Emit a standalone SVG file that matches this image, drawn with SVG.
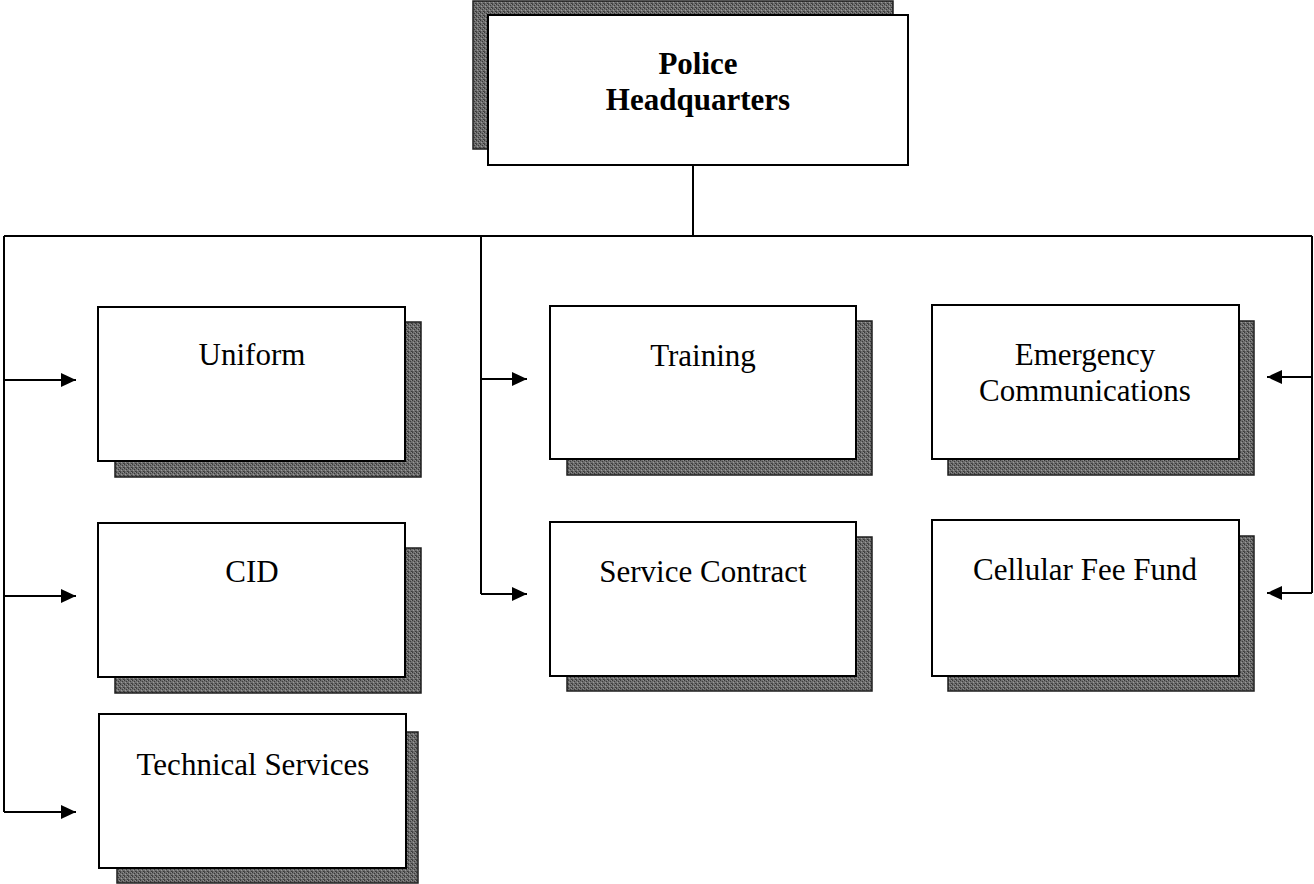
<svg xmlns="http://www.w3.org/2000/svg" width="1314" height="884" viewBox="0 0 1314 884">
  <style>
    .box { fill: #ffffff; stroke: #000000; stroke-width: 2; }
    .shadow { fill: url(#grain); stroke: #1e1e1e; stroke-width: 1.5; }
    .label { font-family: "Liberation Serif", "Times New Roman", serif; font-size: 31px; fill: #000000; text-anchor: middle; }
    .title { font-weight: bold; }
    .wire { fill: none; stroke: #000000; stroke-width: 2; }
  </style>
  <defs>
    <!-- speckled grey fill used for the drop shadows -->
    <pattern id="grain" width="4" height="4" patternUnits="userSpaceOnUse">
      <rect width="4" height="4" fill="#6e6e6e"/>
      <rect x="0" y="0" width="1" height="1" fill="#3a3a3a"/>
      <rect x="2" y="1" width="1" height="1" fill="#3a3a3a"/>
      <rect x="1" y="2" width="1" height="1" fill="#9a9a9a"/>
      <rect x="3" y="3" width="1" height="1" fill="#3a3a3a"/>
      <rect x="3" y="0" width="1" height="1" fill="#8c8c8c"/>
      <rect x="0" y="3" width="1" height="1" fill="#4a4a4a"/>
    </pattern>
    <marker id="arrow" viewBox="0 0 15 14" refX="15" refY="7" markerWidth="15" markerHeight="14" markerUnits="userSpaceOnUse" orient="auto">
      <path d="M0,0 L15,7 L0,14 Z" fill="#000000"/>
    </marker>
  </defs>

  <rect width="1314" height="884" fill="#ffffff"/>

  <!-- headquarters -->
  <g id="hq">
    <rect class="shadow" x="473" y="1" width="420" height="148"/>
    <rect class="box" x="488" y="15" width="420" height="150"/>
    <text class="label title" x="698" y="74">Police</text>
    <text class="label title" x="698" y="110">Headquarters</text>
  </g>

  <!-- connectors -->
  <g id="connectors">
    <path class="wire" d="M693,165 V236"/>
    <path class="wire" d="M4,236 H1312"/>
    <path class="wire" d="M4,236 V812"/>
    <path class="wire" d="M4,380 H76" marker-end="url(#arrow)"/>
    <path class="wire" d="M4,596 H76" marker-end="url(#arrow)"/>
    <path class="wire" d="M4,812 H76" marker-end="url(#arrow)"/>
    <path class="wire" d="M481,236 V594"/>
    <path class="wire" d="M481,379 H527" marker-end="url(#arrow)"/>
    <path class="wire" d="M481,594 H527" marker-end="url(#arrow)"/>
    <path class="wire" d="M1312,236 V593"/>
    <path class="wire" d="M1312,377 H1267" marker-end="url(#arrow)"/>
    <path class="wire" d="M1312,593 H1267" marker-end="url(#arrow)"/>
  </g>

  <g id="uniform">
    <rect class="shadow" x="115" y="322" width="306" height="155"/>
    <rect class="box" x="98" y="307" width="307" height="154"/>
    <text class="label" x="252" y="365">Uniform</text>
  </g>

  <g id="cid">
    <rect class="shadow" x="115" y="548" width="306" height="145"/>
    <rect class="box" x="98" y="523" width="307" height="154"/>
    <text class="label" x="252" y="582">CID</text>
  </g>

  <g id="technical-services">
    <rect class="shadow" x="117" y="732" width="301" height="151"/>
    <rect class="box" x="99" y="714" width="307" height="154"/>
    <text class="label" x="253" y="775">Technical Services</text>
  </g>

  <g id="training">
    <rect class="shadow" x="567" y="321" width="305" height="154"/>
    <rect class="box" x="550" y="306" width="306" height="153"/>
    <text class="label" x="703" y="366">Training</text>
  </g>

  <g id="service-contract">
    <rect class="shadow" x="567" y="537" width="305" height="154"/>
    <rect class="box" x="550" y="522" width="306" height="154"/>
    <text class="label" x="703" y="582">Service Contract</text>
  </g>

  <g id="emergency-communications">
    <rect class="shadow" x="948" y="321" width="306" height="154"/>
    <rect class="box" x="932" y="305" width="307" height="154"/>
    <text class="label" x="1085" y="365">Emergency</text>
    <text class="label" x="1085" y="401">Communications</text>
  </g>

  <g id="cellular-fee-fund">
    <rect class="shadow" x="948" y="536" width="306" height="155"/>
    <rect class="box" x="932" y="520" width="307" height="156"/>
    <text class="label" x="1085" y="580">Cellular Fee Fund</text>
  </g>
</svg>
